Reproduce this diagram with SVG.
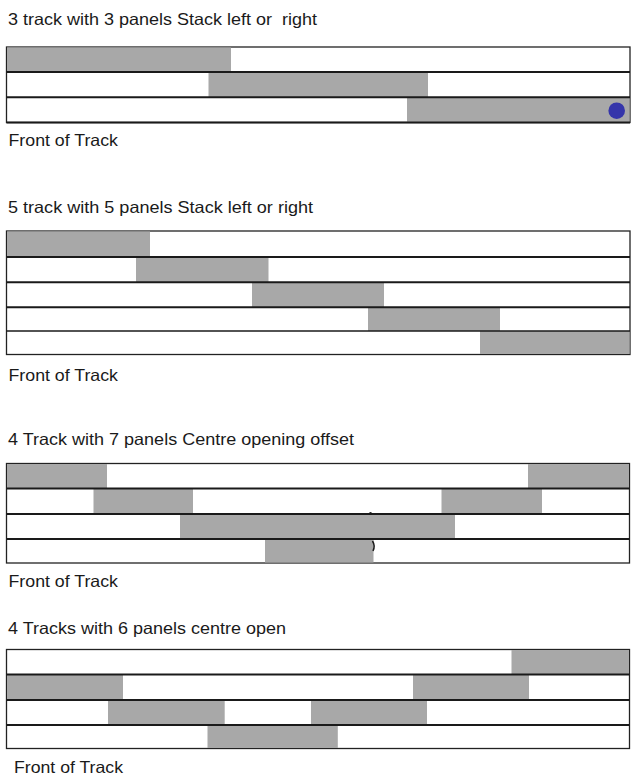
<svg xmlns="http://www.w3.org/2000/svg" width="638" height="783" viewBox="0 0 638 783">
<style>
  text { font-family: "Liberation Sans", Arial, sans-serif; font-size: 16.5px; fill: #1a1a1a; }
  .panel { fill: #a8a8a8; }
  .frame { fill: #ffffff; stroke: #222222; stroke-width: 1.3; }
  .sep { stroke: #1a1a1a; stroke-width: 2; }
</style>
<rect width="638" height="783" fill="#ffffff"/>

<g id="section1">
  <text x="8" y="24.5" textLength="309" lengthAdjust="spacingAndGlyphs" xml:space="preserve">3 track with 3 panels Stack left or  right</text>
  <rect class="frame" x="6.5" y="47" width="623.5" height="75.5"/>
  <rect class="panel" x="7" y="47.5" width="224" height="24.5"/>
  <rect class="panel" x="208.5" y="72" width="219.5" height="25"/>
  <rect class="panel" x="407" y="97" width="222.5" height="25"/>
  <circle cx="616.7" cy="110.7" r="8.3" fill="#3535aa"/>
  <line class="sep" x1="6.5" y1="72" x2="630" y2="72"/>
  <line class="sep" x1="6.5" y1="97.3" x2="630" y2="97.3"/>
  <line class="sep" x1="6.5" y1="122.5" x2="630" y2="122.5"/>
  <text x="8.5" y="146" textLength="109.5" lengthAdjust="spacingAndGlyphs">Front of Track</text>
</g>

<g id="section2">
  <text x="8" y="213" textLength="305" lengthAdjust="spacingAndGlyphs">5 track with 5 panels Stack left or right</text>
  <rect class="frame" x="6.5" y="231" width="623.5" height="123.5"/>
  <rect class="panel" x="7" y="231.5" width="143" height="25.5"/>
  <rect class="panel" x="136" y="257" width="132.5" height="25"/>
  <rect class="panel" x="252" y="282" width="132" height="25"/>
  <rect class="panel" x="368" y="307" width="132" height="24"/>
  <rect class="panel" x="480" y="331" width="149.5" height="23"/>
  <line class="sep" x1="6.5" y1="257" x2="630" y2="257"/>
  <line class="sep" x1="6.5" y1="282.3" x2="630" y2="282.3"/>
  <line class="sep" x1="6.5" y1="307.3" x2="630" y2="307.3"/>
  <line class="sep" x1="6.5" y1="331" x2="630" y2="331" style="stroke-width:1.5"/>
  <text x="8.5" y="381" textLength="109.5" lengthAdjust="spacingAndGlyphs">Front of Track</text>
</g>

<g id="section3">
  <text x="8" y="445" textLength="346" lengthAdjust="spacingAndGlyphs">4 Track with 7 panels Centre opening offset</text>
  <rect class="frame" x="6.5" y="463.5" width="623" height="99.5"/>
  <rect class="panel" x="7" y="464" width="100" height="24.5"/>
  <rect class="panel" x="528" y="464" width="101" height="24.5"/>
  <rect class="panel" x="93.5" y="488.5" width="99.5" height="25.5"/>
  <rect class="panel" x="441.5" y="488.5" width="100.5" height="25.5"/>
  <rect class="panel" x="180" y="514" width="275" height="25"/>
  <rect class="panel" x="265" y="539" width="108.5" height="23.5"/>
  <line class="sep" x1="6.5" y1="488.5" x2="629.5" y2="488.5"/>
  <line class="sep" x1="6.5" y1="514" x2="629.5" y2="514"/>
  <line class="sep" x1="6.5" y1="539" x2="629.5" y2="539"/>
  <path d="M372.5 541 Q375.5 546 373 551" fill="none" stroke="#1a1a1a" stroke-width="1.5"/>
  <circle cx="370.5" cy="513.5" r="1.6" fill="#1a1a1a"/>
  <text x="8.5" y="587" textLength="109.5" lengthAdjust="spacingAndGlyphs">Front of Track</text>
</g>

<g id="section4">
  <text x="8" y="633.5" textLength="278" lengthAdjust="spacingAndGlyphs">4 Tracks with 6 panels centre open</text>
  <rect class="frame" x="6.5" y="649.5" width="623" height="99"/>
  <rect class="panel" x="511.5" y="650" width="117.5" height="24.5"/>
  <rect class="panel" x="7" y="674.5" width="116" height="25.5"/>
  <rect class="panel" x="413" y="674.5" width="116" height="25.5"/>
  <rect class="panel" x="108" y="700" width="116.7" height="25"/>
  <rect class="panel" x="311" y="700" width="116" height="25"/>
  <rect class="panel" x="207.5" y="725" width="130.3" height="23"/>
  <line class="sep" x1="6.5" y1="674.5" x2="629.5" y2="674.5"/>
  <line class="sep" x1="6.5" y1="700" x2="629.5" y2="700"/>
  <line class="sep" x1="6.5" y1="725" x2="629.5" y2="725"/>
  <text x="14" y="773" textLength="109" lengthAdjust="spacingAndGlyphs">Front of Track</text>
</g>
</svg>
